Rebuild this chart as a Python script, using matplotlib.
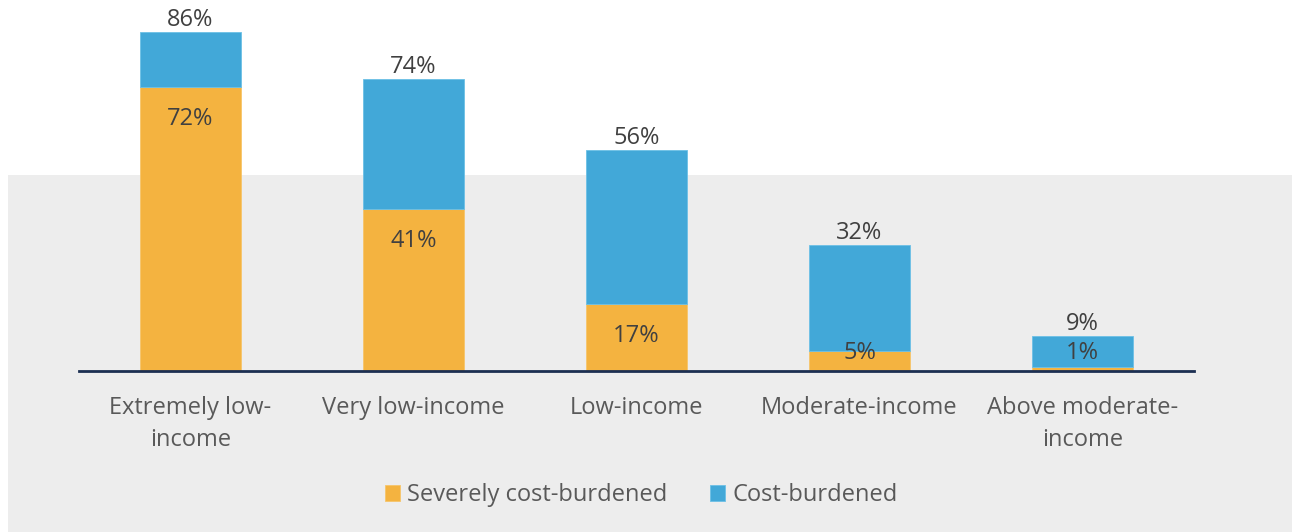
import matplotlib
matplotlib.use("Agg")
import matplotlib.pyplot as plt
from matplotlib.patches import Rectangle
import numpy as np

categories = ["Extremely low-\nincome", "Very low-income", "Low-income",
              "Moderate-income", "Above moderate-\nincome"]
severely = [72, 41, 17, 5, 1]
total = [86, 74, 56, 32, 9]
series_names = ["Severely cost-burdened", "Cost-burdened"]

ORANGE = "#F4B340"
BLUE = "#42A8D8"
BG = "#EDEDED"
TXT = "#404040"
LBL = "#595959"
FS = 17

plt.rcParams['font.family'] = ['Open Sans', 'DejaVu Sans']

W, H = 1292, 532
fig = plt.figure(figsize=(W / 100, H / 100), dpi=100)
bgrect = Rectangle((8 / W, 0), 1 - 8 / W, (H - 175) / H,
                   transform=fig.transFigure, facecolor=BG,
                   edgecolor='none', zorder=-10)
fig.add_artist(bgrect)

ax = fig.add_axes([79 / W, (H - 371) / H, (1194 - 79) / W, 339 / H])
ax.set_zorder(1)
ax.patch.set_alpha(0)
x = np.arange(len(categories))
width = 101 / 223
upper = [t - s for t, s in zip(total, severely)]
ax.bar(x, severely, width, color=ORANGE, label=series_names[0],
       edgecolor='#f7c56a', linewidth=0.6, zorder=2)
ax.bar(x, upper, width, bottom=severely, color=BLUE, label=series_names[1],
       edgecolor='#6cc0e6', linewidth=0.6, zorder=2)

ax.set_xlim(-0.5, len(categories) - 0.5)
ax.set_ylim(0, 86)

for xi, s, t in zip(x, severely, total):
    ax.annotate(f"{t}%", (xi, t), xytext=(0, 0), textcoords='offset points',
                ha='center', va='bottom', fontsize=FS, color=TXT, zorder=3)
    ys = max(s - 8.0, 4.5)
    ax.text(xi, ys, f"{s}%", ha='center', va='center', fontsize=FS,
            color=TXT, zorder=3)

for sp in ['top', 'right', 'left']:
    ax.spines[sp].set_visible(False)
ax.spines['bottom'].set_color('#1c2f52')
ax.spines['bottom'].set_linewidth(2)
ax.spines['bottom'].set_zorder(4)
ax.set_yticks([])
ax.set_xticks(x)
ax.set_xticklabels(categories, fontsize=FS, color=LBL, linespacing=1.42)
ax.tick_params(axis='x', length=0, pad=18)

leg = fig.legend(loc='center', bbox_to_anchor=(641 / W, (H - 495) / H),
                 ncol=2, frameon=False, fontsize=FS, handlelength=0.64,
                 handleheight=0.64, handletextpad=0.3, columnspacing=1.82,
                 labelcolor=LBL)

fig.savefig("out.png", dpi=100)
